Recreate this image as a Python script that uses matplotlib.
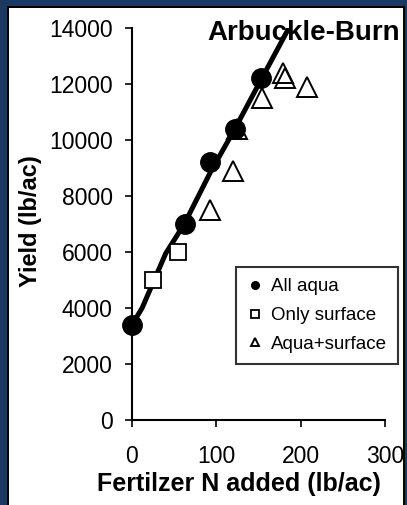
import matplotlib
matplotlib.use("Agg")
import matplotlib.pyplot as plt
from matplotlib.lines import Line2D
from matplotlib.patches import Rectangle

# Data
aqua_n = [0, 63, 93, 122, 153]
aqua_y = [3400, 7000, 9200, 10400, 12200]
surf_n = [25, 55]
surf_y = [5000, 6000]
mix_n = [93, 120, 124, 154, 179, 182, 208]
mix_y = [7500, 8900, 10400, 11500, 12400, 12200, 11900]
fit_n = [0, 12, 40, 62, 93, 122, 153, 186]
fit_y = [3400, 4000, 5950, 7000, 8850, 10400, 12150, 14000]
x_ticks = [0, 100, 200, 300]
y_ticks = [0, 2000, 4000, 6000, 8000, 10000, 12000, 14000]

plt.rcParams['font.family'] = ['Liberation Sans', 'DejaVu Sans']

W, H = 407, 505
fig = plt.figure(figsize=(W / 100, H / 100), dpi=100)
fig.patch.set_facecolor('#1B3A60')
# white panel with thin dark edge
fig.patches.append(Rectangle((7 / W, 0), (405 - 7) / W, (H - 6) / H, transform=fig.transFigure,
                             facecolor='black', edgecolor='none', zorder=-10))
fig.patches.append(Rectangle((9 / W, 0), (403 - 9) / W, (H - 8) / H, transform=fig.transFigure,
                             facecolor='white', edgecolor='none', zorder=-9))

ax = fig.add_axes([132 / W, 1 - 420 / H, (385 - 132) / W, (420 - 28) / H])
ax.set_facecolor('none')
ax.set_xlim(0, 300)
ax.set_ylim(0, 14000)

ax.plot(fit_n, fit_y, color='black', lw=3.6, zorder=2, solid_capstyle='round')
ax.plot(aqua_n, aqua_y, 'o', color='black', ms=14, zorder=3, clip_on=False)
ax.plot(surf_n, surf_y, 's', mfc='white', mec='black', mew=1.3, ms=12, zorder=3, clip_on=False)
ax.plot(mix_n, mix_y, '^', mfc='none', mec='black', mew=1.4, ms=15, zorder=4, clip_on=False)

for s in ['top', 'right']:
    ax.spines[s].set_visible(False)
for s in ['left', 'bottom']:
    ax.spines[s].set_linewidth(1.5)
ax.set_xticks(x_ticks)
ax.set_yticks(y_ticks)
ax.tick_params(axis='both', direction='out', length=5, width=1.2, labelsize=16.5)
ax.tick_params(axis='y', pad=9)
ax.tick_params(axis='x', pad=13)

fig.text(30 / W, 1 - 221 / H, 'Yield (lb/ac)', rotation=90, ha='center', va='center',
         fontsize=17, fontweight='bold')
fig.text(239 / W, 1 - 484 / H, 'Fertilzer N added (lb/ac)', ha='center', va='center',
         fontsize=18, fontweight='bold')
fig.text(400 / W, 1 - 33 / H, 'Arbuckle-Burn', ha='right', va='center',
         fontsize=20, fontweight='bold')

handles = [
    Line2D([], [], ls='none', marker='o', color='black', ms=5.5),
    Line2D([], [], ls='none', marker='s', mfc='white', mec='black', mew=1.3, ms=5.5),
    Line2D([], [], ls='none', marker='^', mfc='white', mec='black', mew=1.4, ms=6),
]
leg = ax.legend(handles, ['All aqua', 'Only surface', 'Aqua+surface'],
                loc='upper right', bbox_to_anchor=(398 / W, 1 - 267 / H),
                bbox_transform=fig.transFigure, borderaxespad=0, fontsize=13.5,
                frameon=True, fancybox=False, handlelength=0.8, handletextpad=0.45,
                labelspacing=0.62, borderpad=0.6)
leg.get_frame().set_edgecolor('black')
leg.get_frame().set_linewidth(1.5)

fig.savefig('out.png', dpi=100, facecolor=fig.get_facecolor())
